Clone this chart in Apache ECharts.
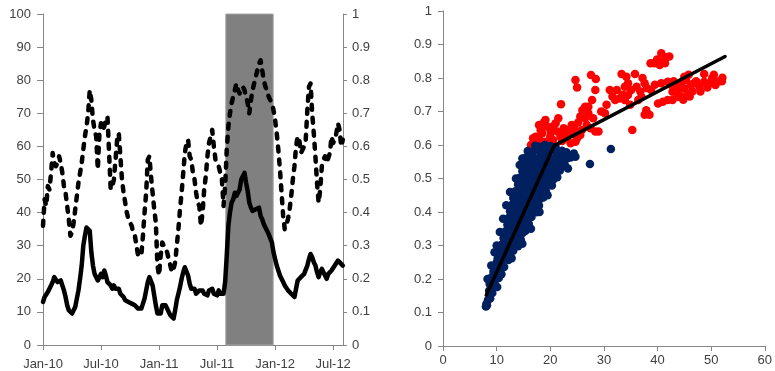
<!DOCTYPE html>
<html>
<head>
<meta charset="utf-8">
<script src="https://cdn.jsdelivr.net/npm/echarts@6/dist/echarts.min.js"></script>
<style>
  html, body { margin: 0; padding: 0; background: #fff; }
  #chart { width: 775px; height: 371px; }
</style>
</head>
<body>
<div id="chart"></div>
<script>
// Time axis: months since Jan-2010, one observation every sixth of a month
const monthTicks = [0, 6, 12, 18, 24, 30];
const monthTickLabels = ['Jan-10', 'Jul-10', 'Jan-11', 'Jul-11', 'Jan-12', 'Jul-12'];
const stepMonths = 1 / 6;

// Volatility index level (left axis)
const volIndex = [
  13, 14.5, 14, 16, 16.5, 18, 19, 20.5, 20, 19,
  18.5, 19.5, 19, 16.5, 14.5, 12, 10.5, 10, 9.5, 10,
  11.5, 14, 16.5, 20, 24, 30, 33, 35.5, 36, 34.5,
  28, 24, 21.5, 20.5, 19.5, 20.5, 21.5, 20.5, 22.5, 21,
  19, 18.5, 18, 17, 18, 17, 16.5, 17, 15.5, 15,
  14.5, 13.5, 14, 13, 13, 12.5, 12.5, 12, 11.5, 11,
  10.5, 11, 12.5, 14, 16.5, 19, 20.5, 20, 18, 15,
  12, 9.5, 9, 9.5, 12, 12.5, 12, 11, 10, 9,
  8.5, 8, 10.5, 13.5, 15.5, 17.5, 20, 22, 23.5, 23,
  21, 18.5, 17, 16.5, 17, 15.5, 15, 16.5, 16, 16.5,
  15.5, 16, 15, 16.5, 16, 17, 15.5, 16, 15, 16.5,
  15.5, 16, 15.5, 19, 27, 36, 40, 43, 44, 46,
  45, 45.5, 47, 50, 51, 52, 49, 46.5, 43, 41.5,
  40.5, 40, 41, 41.5, 41.5, 39, 38, 36.5, 35.5, 34.5,
  33.5, 33, 31, 28, 26, 24, 22.5, 21, 20, 19,
  18, 17.5, 16.5, 17, 15.5, 15, 14.5, 17, 19.5, 20,
  20.5, 20, 21.5, 21, 24, 26, 27.5, 26.5, 25, 24,
  22, 20.5, 22, 23, 22, 21.5, 20, 21.5, 21, 22.5,
  23, 24, 23.5, 25.5, 26, 24.5, 24
];

// Average correlation (right axis)
const avgCorr = [
  0.36, 0.44, 0.42, 0.48, 0.47, 0.52, 0.58, 0.55, 0.54, 0.55,
  0.57, 0.55, 0.52, 0.48, 0.46, 0.42, 0.38, 0.33, 0.34, 0.37,
  0.41, 0.45, 0.49, 0.52, 0.55, 0.59, 0.63, 0.66, 0.70, 0.77,
  0.74, 0.68, 0.65, 0.63, 0.53, 0.64, 0.67, 0.65, 0.66, 0.68,
  0.69, 0.58, 0.47, 0.48, 0.50, 0.56, 0.62, 0.64, 0.57, 0.50,
  0.46, 0.43, 0.40, 0.38, 0.37, 0.36, 0.34, 0.33, 0.30, 0.27,
  0.27, 0.27, 0.33, 0.40, 0.46, 0.56, 0.57, 0.51, 0.46, 0.41,
  0.37, 0.24, 0.21, 0.27, 0.31, 0.30, 0.29, 0.28, 0.26, 0.24,
  0.22, 0.23, 0.25, 0.30, 0.35, 0.41, 0.46, 0.52, 0.58, 0.61,
  0.62, 0.57, 0.56, 0.52, 0.50, 0.46, 0.43, 0.42, 0.36, 0.40,
  0.47, 0.51, 0.57, 0.61, 0.63, 0.65, 0.60, 0.56, 0.55, 0.54,
  0.52, 0.50, 0.42, 0.48, 0.59, 0.66, 0.70, 0.73, 0.75, 0.77,
  0.79, 0.77, 0.76, 0.77, 0.78, 0.77, 0.75, 0.73, 0.70, 0.74,
  0.77, 0.79, 0.81, 0.83, 0.85, 0.86, 0.83, 0.80, 0.78, 0.77,
  0.75, 0.74, 0.73, 0.71, 0.68, 0.64, 0.59, 0.53, 0.46, 0.39,
  0.35, 0.35, 0.38, 0.41, 0.45, 0.50, 0.54, 0.60, 0.63, 0.62,
  0.58, 0.58, 0.60, 0.62, 0.71, 0.78, 0.79, 0.70, 0.64, 0.57,
  0.49, 0.43, 0.47, 0.54, 0.56, 0.57, 0.55, 0.55, 0.58, 0.63,
  0.61, 0.62, 0.64, 0.67, 0.65, 0.60, 0.62
];

// Shaded stress period (months since Jan-2010)
const stressStart = 18.9;
const stressEnd = 23.8;

// Scatter: volatility index (x) against correlation (y)
const lowRegime = [
  [8.0,0.118],[8.1,0.126],[8.2,0.122],[8.8,0.142],[8.4,0.138],[8.6,0.165],[9.2,0.158],
  [8.7,0.185],[9.4,0.180],[10.1,0.176],[9.0,0.192],
  [8.3,0.20],[9.1,0.205],[9.8,0.198],[10.4,0.203],[9.5,0.212],
  [9.4,0.222],[10.0,0.218],[10.6,0.225],[10.9,0.214],
  [9.0,0.24],[9.7,0.242],[10.3,0.238],[10.9,0.245],[11.4,0.236],[10.1,0.252],
  [10.2,0.262],[10.8,0.258],[11.5,0.265],[12.2,0.257],[12.8,0.262],[11.1,0.27],
  [9.6,0.28],[10.6,0.282],[11.2,0.278],[11.8,0.285],[12.4,0.279],[13.1,0.284],[11.5,0.29],
  [10.0,0.30],[10.9,0.302],[11.5,0.298],[12.1,0.305],[12.7,0.297],[13.4,0.303],[14.0,0.298],[11.8,0.31],[14.8,0.305],
  [11.3,0.322],[11.9,0.318],[12.5,0.325],[13.1,0.317],[13.8,0.323],[14.5,0.318],[12.2,0.33],
  [10.6,0.34],[11.6,0.342],[12.3,0.338],[12.9,0.345],[13.5,0.337],[14.2,0.343],[14.9,0.338],[15.4,0.344],[12.7,0.35],[16.4,0.35],
  [12.0,0.362],[12.6,0.358],[13.2,0.365],[13.9,0.357],[14.6,0.363],[15.3,0.358],[16.0,0.364],[13.4,0.37],
  [11.2,0.38],[12.2,0.382],[12.9,0.378],[13.6,0.385],[14.3,0.377],[15.0,0.383],[15.7,0.378],[16.5,0.385],[14.0,0.39],
  [12.5,0.402],[13.2,0.398],[13.9,0.405],[14.6,0.397],[15.3,0.403],[16.0,0.398],[16.8,0.404],[17.4,0.399],[14.2,0.41],[18.0,0.40],
  [11.8,0.42],[12.9,0.422],[13.6,0.418],[14.3,0.425],[15.0,0.417],[15.7,0.423],[16.4,0.418],[17.1,0.424],[17.9,0.419],[15.2,0.43],
  [13.1,0.442],[13.8,0.438],[14.5,0.445],[15.2,0.437],[15.9,0.443],[16.6,0.438],[17.3,0.445],[18.0,0.437],[18.7,0.443],[15.5,0.45],[19.5,0.45],
  [12.5,0.46],[13.5,0.462],[14.2,0.458],[14.9,0.465],[15.6,0.457],[16.3,0.463],[17.0,0.458],[17.7,0.465],[18.4,0.457],[19.2,0.463],[16.0,0.47],
  [14.0,0.482],[14.7,0.478],[15.4,0.485],[16.1,0.477],[16.8,0.483],[17.5,0.478],[18.2,0.485],[18.9,0.477],[19.6,0.483],[20.3,0.479],[16.5,0.49],[18.0,0.492],
  [13.6,0.50],[14.3,0.502],[15.0,0.498],[15.7,0.505],[16.4,0.497],[17.1,0.503],[17.8,0.498],[18.5,0.505],[19.2,0.497],[19.9,0.503],[20.6,0.498],[21.3,0.504],[17.0,0.512],[19.5,0.513],
  [14.8,0.522],[15.5,0.518],[16.2,0.525],[16.9,0.517],[17.6,0.523],[18.3,0.518],[19.0,0.525],[19.7,0.517],[20.4,0.523],[21.1,0.518],[21.8,0.524],[18.0,0.532],[20.0,0.533],
  [14.3,0.54],[15.0,0.542],[15.7,0.538],[16.4,0.545],[17.1,0.537],[17.8,0.543],[18.5,0.538],[19.2,0.545],[19.9,0.537],[20.6,0.543],[21.3,0.538],[22.0,0.545],[22.7,0.54],[17.5,0.552],[19.5,0.553],[21.5,0.552],
  [14.8,0.56],[15.4,0.562],[16.1,0.558],[16.8,0.565],[17.5,0.557],[18.2,0.563],[18.9,0.558],[19.6,0.565],[20.3,0.557],[21.0,0.563],[21.7,0.558],[22.4,0.565],[23.1,0.56],[23.8,0.563],
  [15.8,0.582],[16.6,0.578],[17.4,0.585],[18.2,0.577],[19.0,0.583],[19.8,0.578],[20.6,0.585],[21.4,0.577],[22.2,0.583],[23.0,0.578],[24.4,0.575],
  [17.2,0.598],[18.0,0.595],[19.0,0.6],[20.0,0.597],[21.0,0.594],
  [23.3,0.53],[24.7,0.565],[27.4,0.543],[31.3,0.588]
];

const highRegime = [
  [16.4,0.600],[17.3,0.625],[17.9,0.660],[18.8,0.667],[19.4,0.655],[18.5,0.635],[20.1,0.640],[21.0,0.665],
  [21.3,0.640],[21.9,0.625],[22.8,0.635],[23.4,0.645],[24.1,0.635],[25.0,0.620],[24.7,0.610],[23.8,0.605],
  [25.6,0.630],[25.9,0.645],[19.1,0.675],[17.0,0.61],[16.8,0.62],[18.0,0.615],[19.0,0.61],[20.5,0.615],
  [22.2,0.612],[20.0,0.625],[18.2,0.645],[22.5,0.65],[23.0,0.62],[24.5,0.65],
  [22.0,0.722],[25.2,0.667],[26.5,0.680],[26.0,0.704],[27.1,0.714],[27.8,0.734],[28.4,0.764],[24.7,0.794],
  [25.0,0.772],[27.6,0.809],[28.5,0.797],[28.4,0.640],[30.2,0.695],[27.1,0.695],[26.5,0.714],[25.6,0.685],[29.0,0.64],
  [32.4,0.764],[33.3,0.812],[34.2,0.804],[34.5,0.784],[32.9,0.739],[33.9,0.774],[35.1,0.764],[35.8,0.812],
  [36.1,0.774],[37.0,0.744],[37.6,0.784],[36.4,0.734],[35.3,0.645],[37.6,0.690],[38.5,0.690],[37.9,0.704],
  [38.7,0.844],[39.4,0.844],[40.4,0.839],[40.7,0.874],[41.6,0.862],[42.2,0.864],[41.4,0.844],[40.7,0.784],
  [38.8,0.764],[40.1,0.724],[41.0,0.729],[41.9,0.734],[42.8,0.759],[43.4,0.774],[44.4,0.784],[43.8,0.744],
  [45.0,0.769],[45.6,0.754],[45.3,0.794],[46.2,0.779],[46.8,0.784],[47.8,0.774],[48.7,0.812],[48.7,0.789],
  [49.3,0.772],[50.2,0.799],[50.8,0.779],[52.1,0.801],[44.4,0.744],[42.8,0.734],[45.0,0.804],[41.9,0.789],
  [32.1,0.734],[31.1,0.764],[34.5,0.749],[33.9,0.734],
  [43.0,0.79],[44.0,0.765],[46.5,0.76],[47.2,0.79],[48.0,0.76],[49.8,0.785],[51.5,0.79],[44.8,0.735],
  [46.0,0.745],[39.5,0.78],[38.0,0.77],[36.8,0.76],[34.9,0.72],[33.5,0.75],[31.6,0.745],[30.5,0.72],
  [29.5,0.70],[28.0,0.68],[26.8,0.66],[27.5,0.65],[24.0,0.66],[21.5,0.68],[20.5,0.655],[39.9,0.855],
  [41.0,0.85],[37.2,0.80],[42.5,0.78],[50.5,0.81],[52.0,0.79],[45.8,0.81]
];

// Fitted two-segment relationship
const fitLine = [[8.07, 0.152], [20.7, 0.598], [52.6, 0.864]];

const AXIS_GREY = '#868686';
const LABEL_COLOR = '#404040';
const FONT = 'Liberation Sans';

const volData = volIndex.map((v, i) => [i * stepMonths, v]);
const corrData = avgCorr.map((v, i) => [i * stepMonths, v]);

const axisLine = { show: true, lineStyle: { color: AXIS_GREY, width: 1 } };
const labelBase = { color: LABEL_COLOR, fontFamily: FONT, fontSize: 13 };

const chart = echarts.init(document.getElementById('chart'), null, { renderer: 'canvas' });
chart.setOption({
  animation: false,
  backgroundColor: '#fff',
  grid: [
    { left: 43, top: 14, width: 300, height: 332 },
    { left: 443, top: 11, width: 325, height: 335 }
  ],
  xAxis: [
    {
      gridIndex: 0, type: 'value', min: 0, max: 31.02, interval: 6,
      axisLine,
      axisTick: { show: true, length: 5, lineStyle: { color: AXIS_GREY }, customValues: monthTicks },
      axisLabel: Object.assign({}, labelBase, {
        margin: 13, customValues: monthTicks,
        formatter: v => monthTickLabels[monthTicks.indexOf(Math.round(v))] || ''
      }),
      splitLine: { show: false }
    },
    {
      gridIndex: 1, type: 'value', min: 0, max: 60, interval: 10,
      axisLine,
      axisTick: { show: true, length: 5, lineStyle: { color: AXIS_GREY } },
      axisLabel: Object.assign({}, labelBase, { margin: 8 }),
      splitLine: { show: false }
    }
  ],
  yAxis: [
    {
      gridIndex: 0, type: 'value', min: 0, max: 100, interval: 10, position: 'left',
      axisLine,
      axisTick: { show: true, length: 6, lineStyle: { color: AXIS_GREY } },
      axisLabel: Object.assign({}, labelBase, { margin: 12 }),
      splitLine: { show: false }
    },
    {
      gridIndex: 0, type: 'value', min: 0, max: 1, interval: 0.1, position: 'right',
      axisLine,
      axisTick: { show: true, length: 4, lineStyle: { color: AXIS_GREY } },
      axisLabel: Object.assign({}, labelBase, { margin: 9, formatter: v => String(+v.toFixed(1)) }),
      splitLine: { show: false }
    },
    {
      gridIndex: 1, type: 'value', min: 0, max: 1, interval: 0.1,
      axisLine,
      axisTick: { show: true, length: 5, lineStyle: { color: AXIS_GREY } },
      axisLabel: Object.assign({}, labelBase, { margin: 11, formatter: v => String(+v.toFixed(1)) }),
      splitLine: { show: false }
    }
  ],
  series: [
    {
      name: 'stress', type: 'line', xAxisIndex: 0, yAxisIndex: 0, data: [], z: 1,
      markArea: {
        silent: true,
        itemStyle: { color: '#808080', borderColor: '#a6a6a6', borderWidth: 1 },
        data: [[{ xAxis: stressStart }, { xAxis: stressEnd }]]
      }
    },
    {
      name: 'corr', type: 'line', xAxisIndex: 0, yAxisIndex: 1, data: corrData, z: 3,
      showSymbol: false, symbol: 'none',
      lineStyle: { color: '#000', width: 4.5, type: [5, 8], cap: 'round', join: 'round' }
    },
    {
      name: 'vol', type: 'line', xAxisIndex: 0, yAxisIndex: 0, data: volData, z: 4,
      showSymbol: false, symbol: 'none',
      lineStyle: { color: '#000', width: 4.5, cap: 'round', join: 'round' }
    },
    {
      name: 'high', type: 'scatter', xAxisIndex: 1, yAxisIndex: 2, data: highRegime, z: 3,
      symbolSize: 8.5, itemStyle: { color: '#ff0000', opacity: 1 }
    },
    {
      name: 'low', type: 'scatter', xAxisIndex: 1, yAxisIndex: 2, data: lowRegime, z: 4,
      symbolSize: 8.5, itemStyle: { color: '#002060', opacity: 1 }
    },
    {
      name: 'fit', type: 'line', xAxisIndex: 1, yAxisIndex: 2, data: fitLine, z: 5,
      showSymbol: false, symbol: 'none',
      lineStyle: { color: '#000', width: 3.5, cap: 'round', join: 'round' }
    }
  ]
});
</script>
</body>
</html>
